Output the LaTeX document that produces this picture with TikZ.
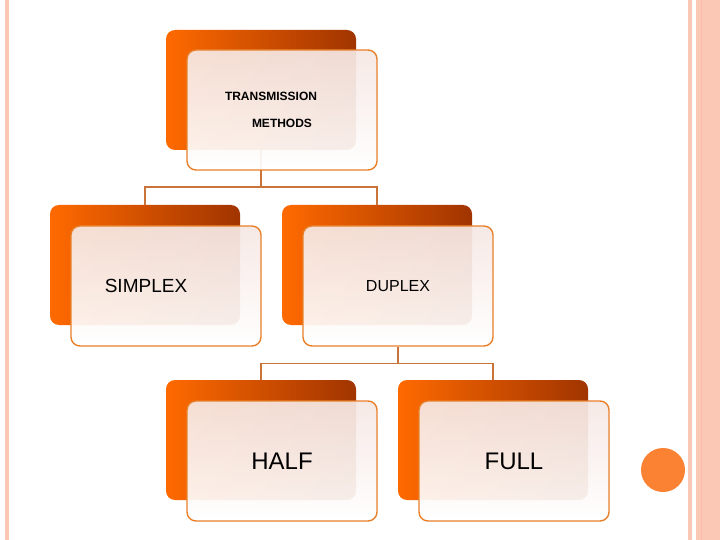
\documentclass[tikz,border=0pt]{standalone}
\usepackage{fontspec}
\setmainfont{Liberation Sans}
\usetikzlibrary{positioning}
\definecolor{darkrust}{RGB}{160, 52, 0}
\definecolor{brightorange}{RGB}{255, 106, 0}
\definecolor{edgeorange}{RGB}{232, 128, 42}
\definecolor{linkbrown}{RGB}{200, 116, 58}
\definecolor{paleblush}{RGB}{246, 232, 228}
\definecolor{stripe}{RGB}{250, 200, 180}
\definecolor{dotorange}{RGB}{250, 130, 50}

\tikzset{
  backbox/.style={rectangle, rounded corners=9pt, minimum width=190pt, minimum height=120pt,
    left color=brightorange, right color=darkrust, inner sep=0pt},
  frontbox/.style={rectangle, rounded corners=9pt, minimum width=190pt, minimum height=120pt,
    draw=edgeorange, line width=1.4pt, top color=paleblush, bottom color=white, fill opacity=0.93,
    text opacity=1, inner sep=0pt},
  link/.style={draw=linkbrown, line width=1.4pt}
}

\begin{document}
\begin{tikzpicture}[x=1pt, y=-1pt]
      \useasboundingbox[fill=white] (0,0) rectangle (720,540);

      % Page decoration
      \fill[stripe] (5,0) rectangle (9,540);
      \fill[stripe] (688,0) rectangle (692,540);
      \fill[stripe] (696,0) rectangle (720,540);
      \draw[stripe!70!red!60, line width=0.6pt] (701,0) -- (701,540);
      \fill[dotorange] (663,470) circle (22);

      % Back boxes
      \node[backbox] (topb) at (261,90) {};
      \node[backbox] (simb) at (145,265) {};
      \node[backbox] (dupb) at (377,265) {};
      \node[backbox] (halfb) at (261,440) {};
      \node[backbox] (fullb) at (493,440) {};

      % Connectors
      \draw[link] (topb.south) -- ++(0,37) -| (simb.north);
      \draw[link] (topb.south) ++(0,37) -| (dupb.north);

      % Front boxes
      \node[frontbox, align=center, font=\bfseries\fontsize{12}{27}\selectfont] (top) at (282,110)
        {\hspace*{-22pt}TRANSMISSION\\METHODS};
      \node[frontbox, font=\fontsize{19}{22}\selectfont] (simplex) at (166,286) {\hspace*{-40pt}SIMPLEX};
      \node[frontbox, font=\fontsize{16}{20}\selectfont] (duplex) at (398,286) {DUPLEX};

      \draw[link] (duplex.south) -- ++(0,17) -| (halfb.north);
      \draw[link] (duplex.south) ++(0,17) -| (fullb.north);

      \node[frontbox, font=\fontsize{24}{28}\selectfont] (half) at (282,461) {HALF};
      \node[frontbox, font=\fontsize{24}{28}\selectfont] (full) at (514,461) {FULL};
\end{tikzpicture}
\end{document}
